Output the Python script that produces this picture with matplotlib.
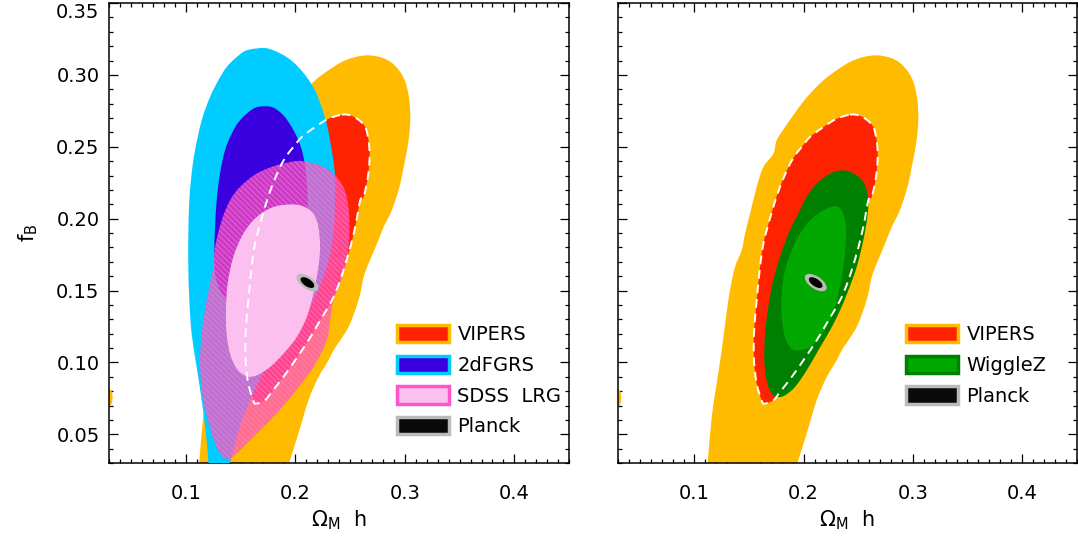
import numpy as np
import matplotlib
matplotlib.use("Agg")
import matplotlib.pyplot as plt
from matplotlib.path import Path
from matplotlib.patches import PathPatch, Ellipse, Patch
from matplotlib.ticker import MultipleLocator

# ---------------- data: contour outlines (Omega_M h, f_B) ----------------
vipers_2sig_x = [0.1106, 0.1121, 0.1158, 0.1203, 0.1249, 0.1289, 0.1325, 0.1371, 0.1432, 0.1463,
                 0.1509, 0.1570, 0.1631, 0.1722, 0.1753, 0.1829, 0.1905, 0.1982, 0.2058, 0.2180,
                 0.2302, 0.2424, 0.2546, 0.2668, 0.2790, 0.2882, 0.2958, 0.3010, 0.3041, 0.3050,
                 0.3041, 0.3019, 0.2989, 0.2958, 0.2913, 0.2867, 0.2806, 0.2745, 0.2668, 0.2623,
                 0.2592, 0.2546, 0.2485, 0.2409, 0.2348, 0.2302, 0.2211, 0.2119, 0.2027, 0.1942,
                 0.1880]
vipers_2sig_y = [0.0156, 0.0300, 0.0620, 0.0852, 0.1084, 0.1315, 0.1501, 0.1663, 0.1779, 0.1895,
                 0.2034, 0.2220, 0.2359, 0.2452, 0.2545, 0.2637, 0.2719, 0.2800, 0.2869, 0.2962,
                 0.3032, 0.3090, 0.3124, 0.3136, 0.3120, 0.3083, 0.3020, 0.2939, 0.2823, 0.2707,
                 0.2591, 0.2475, 0.2359, 0.2243, 0.2127, 0.2034, 0.1942, 0.1826, 0.1687, 0.1594,
                 0.1478, 0.1362, 0.1246, 0.1153, 0.1084, 0.1014, 0.0898, 0.0736, 0.0504, 0.0300,
                 0.0156]

vipers_1sig_x = [0.2424, 0.2500, 0.2577, 0.2638, 0.2668, 0.2678, 0.2662, 0.2623, 0.2592, 0.2546,
                 0.2485, 0.2409, 0.2333, 0.2226, 0.2119, 0.1997, 0.1890, 0.1783, 0.1722, 0.1640,
                 0.1615, 0.1570, 0.1545, 0.1545, 0.1570, 0.1600, 0.1631, 0.1661, 0.1722, 0.1783,
                 0.1860, 0.1921, 0.1982, 0.2058, 0.2180, 0.2302]
vipers_1sig_y = [0.2723, 0.2719, 0.2688, 0.2637, 0.2545, 0.2429, 0.2289, 0.2150, 0.2127, 0.1942,
                 0.1756, 0.1571, 0.1431, 0.1292, 0.1153, 0.1014, 0.0898, 0.0794, 0.0736, 0.0713,
                 0.0736, 0.0852, 0.1014, 0.1200, 0.1431, 0.1663, 0.1826, 0.1918, 0.2081, 0.2220,
                 0.2359, 0.2440, 0.2498, 0.2568, 0.2637, 0.2695]

twodf_2sig_x = [0.1707, 0.1799, 0.1920, 0.2012, 0.2103, 0.2179, 0.2240, 0.2286, 0.2316, 0.2347,
                0.2362, 0.2362, 0.2347, 0.2286, 0.2164, 0.1981, 0.1738, 0.1524, 0.1403, 0.1390,
                0.1214, 0.1205, 0.1183, 0.1144, 0.1098, 0.1052, 0.1031, 0.1022, 0.1022, 0.1031,
                0.1052, 0.1083, 0.1144, 0.1220, 0.1296, 0.1372, 0.1464, 0.1555]
twodf_2sig_y = [0.3187, 0.3171, 0.3124, 0.3066, 0.2985, 0.2892, 0.2776, 0.2661, 0.2545, 0.2405,
                0.2289, 0.2127, 0.1895, 0.1663, 0.1431, 0.1200, 0.0968, 0.0620, 0.0300, 0.0156,
                0.0156, 0.0300, 0.0504, 0.0736, 0.0968, 0.1200, 0.1431, 0.1663, 0.1895, 0.2127,
                0.2313, 0.2475, 0.2684, 0.2846, 0.2962, 0.3055, 0.3124, 0.3171]

twodf_1sig_x = [0.1707, 0.1799, 0.1890, 0.1966, 0.2027, 0.2067, 0.2097, 0.2112, 0.2103, 0.2042,
                0.1920, 0.1738, 0.1555, 0.1403, 0.1311, 0.1266, 0.1259, 0.1266, 0.1281, 0.1311,
                0.1357, 0.1418, 0.1494, 0.1616]
twodf_1sig_y = [0.2781, 0.2772, 0.2719, 0.2637, 0.2545, 0.2452, 0.2313, 0.2127, 0.1895, 0.1710,
                0.1547, 0.1431, 0.1385, 0.1420, 0.1501, 0.1617, 0.1756, 0.1942, 0.2127, 0.2313,
                0.2475, 0.2591, 0.2684, 0.2765]

sdss_2sig_x = [0.2012, 0.2103, 0.2225, 0.2347, 0.2438, 0.2484, 0.2493, 0.2469, 0.2408, 0.2347,
               0.2316, 0.2286, 0.2164, 0.1981, 0.1799, 0.1646, 0.1494, 0.1403, 0.1342, 0.1281,
               0.1220, 0.1159, 0.1129, 0.1144, 0.1189, 0.1250, 0.1266, 0.1327, 0.1403, 0.1494,
               0.1646, 0.1829]
sdss_2sig_y = [0.2401, 0.2394, 0.2371, 0.2313, 0.2220, 0.2081, 0.1895, 0.1710, 0.1547, 0.1431,
               0.1292, 0.1153, 0.0968, 0.0782, 0.0620, 0.0504, 0.0388, 0.0330, 0.0342, 0.0411,
               0.0550, 0.0736, 0.0968, 0.1200, 0.1431, 0.1663, 0.1802, 0.1988, 0.2127, 0.2220,
               0.2313, 0.2371]

sdss_1sig_x = [0.1966, 0.2073, 0.2164, 0.2210, 0.2225, 0.2210, 0.2164, 0.2103, 0.2012, 0.1890,
               0.1768, 0.1646, 0.1555, 0.1464, 0.1403, 0.1372, 0.1366, 0.1381, 0.1433, 0.1524,
               0.1646, 0.1799]
sdss_1sig_y = [0.2099, 0.2085, 0.2034, 0.1942, 0.1802, 0.1663, 0.1478, 0.1315, 0.1176, 0.1060,
               0.0968, 0.0910, 0.0903, 0.0956, 0.1060, 0.1200, 0.1362, 0.1547, 0.1733, 0.1895,
               0.2011, 0.2081]

wigglez_2sig_x = [0.2363, 0.2485, 0.2562, 0.2592, 0.2583, 0.2546, 0.2485, 0.2409, 0.2333, 0.2241,
                  0.2134, 0.2027, 0.1921, 0.1829, 0.1768, 0.1707, 0.1661, 0.1640, 0.1646, 0.1676,
                  0.1722, 0.1783, 0.1860, 0.1936, 0.2027, 0.2119, 0.2241]
wigglez_2sig_y = [0.2336, 0.2301, 0.2232, 0.2127, 0.2011, 0.1849, 0.1663, 0.1501, 0.1362, 0.1223,
                  0.1084, 0.0944, 0.0829, 0.0771, 0.0759, 0.0782, 0.0875, 0.1014, 0.1200, 0.1385,
                  0.1571, 0.1733, 0.1895, 0.2011, 0.2150, 0.2243, 0.2313]

wigglez_1sig_x = [0.2302, 0.2363, 0.2388, 0.2378, 0.2348, 0.2302, 0.2241, 0.2150, 0.2058, 0.1966,
                  0.1890, 0.1829, 0.1799, 0.1799, 0.1829, 0.1890, 0.1966, 0.2058, 0.2180]
wigglez_1sig_y = [0.2085, 0.2034, 0.1918, 0.1756, 0.1594, 0.1431, 0.1292, 0.1176, 0.1107, 0.1084,
                  0.1095, 0.1176, 0.1315, 0.1478, 0.1640, 0.1779, 0.1895, 0.1988, 0.2058]

planck_center = (0.211, 0.1555)

legend_left = ["VIPERS", "2dFGRS", "SDSS  LRG", "Planck"]
legend_right = ["VIPERS", "WiggleZ", "Planck"]
x_ticks = [0.1, 0.2, 0.3, 0.4]
y_ticks = [0.05, 0.10, 0.15, 0.20, 0.25, 0.30, 0.35]

# ---------------- colours ----------------
ORANGE = "#FFBB00"
RED = "#FF2200"
CYAN = "#00CCFF"
BLUE = "#3A00E0"
PINK_IN = "#FBC0F0"
PINK_EDGE = "#FF55C8"
DKGREEN = "#008000"
GREEN = "#00A800"
GRAY = "#BBBBBB"


def smooth_path(xs, ys):
    """Closed Catmull-Rom outline through the given vertices, drawn as Bezier curves."""
    P = np.column_stack([xs, ys])
    n = len(P)
    verts = [P[0]]
    codes = [Path.MOVETO]
    for i in range(n):
        p0, p1, p2, p3 = P[i - 1], P[i], P[(i + 1) % n], P[(i + 2) % n]
        c1 = p1 + (p2 - p0) / 6.0
        c2 = p2 - (p3 - p1) / 6.0
        verts += [c1, c2, p2]
        codes += [Path.CURVE4] * 3
    return Path(verts, codes)


def fill(ax, xs, ys, zorder, **kw):
    patch = PathPatch(smooth_path(xs, ys), zorder=zorder, **kw)
    ax.add_patch(patch)
    return patch


def planck(ax):
    ax.add_patch(Ellipse(planck_center, 0.0215, 0.0092, angle=-24, facecolor=GRAY,
                         edgecolor="none", zorder=20))
    ax.add_patch(Ellipse(planck_center, 0.0135, 0.0056, angle=-24, facecolor="black",
                         edgecolor="none", zorder=21))


def vipers(ax):
    fill(ax, vipers_2sig_x, vipers_2sig_y, 2, facecolor=ORANGE, edgecolor="none")
    fill(ax, vipers_1sig_x, vipers_1sig_y, 3, facecolor=RED, edgecolor="none")
    # small isolated 2-sigma island on the left border
    ax.add_patch(Ellipse((0.03, 0.0755), 0.006, 0.012, facecolor=ORANGE, edgecolor="none", zorder=2))


def dashed(ax):
    fill(ax, vipers_1sig_x, vipers_1sig_y, 15, facecolor="none", edgecolor="white",
         linewidth=1.4, linestyle=(0, (4.5, 3.0)))


def style(ax, ylabels=True):
    ax.set_xlim(0.03, 0.45)
    ax.set_ylim(0.03, 0.35)
    ax.set_xticks(x_ticks)
    ax.set_xticklabels([f"{v:.1f}" for v in x_ticks])
    ax.set_yticks(y_ticks)
    if ylabels:
        ax.set_yticklabels([f"{v:.2f}" for v in y_ticks])
        labs = ax.get_yticklabels()
        labs[-1].set_verticalalignment("top")
    else:
        ax.set_yticklabels([])
    ax.xaxis.set_minor_locator(MultipleLocator(0.01))
    ax.yaxis.set_minor_locator(MultipleLocator(0.01))
    ax.tick_params(which="both", direction="in", top=True, right=True, width=0.9, color="black")
    ax.tick_params(which="major", length=6.3)
    ax.tick_params(which="minor", length=3.1)
    ax.tick_params(axis="x", which="major", pad=15, labelsize=14)
    ax.tick_params(axis="y", which="major", pad=7, labelsize=14)
    for s in ax.spines.values():
        s.set_linewidth(1.1)
    ax.set_xlabel(r"$\Omega_{\mathregular{M}}$  h", fontsize=15, labelpad=4)


plt.rcParams["hatch.linewidth"] = 0.6
fig = plt.figure(figsize=(10.78, 5.37), dpi=100)
axL = fig.add_axes([0.1014, 0.1378, 0.4265, 0.8566])
axR = fig.add_axes([0.5733, 0.1378, 0.4255, 0.8566])

# ---- left panel ----
vipers(axL)
fill(axL, twodf_2sig_x, twodf_2sig_y, 4, facecolor=CYAN, edgecolor="none")
fill(axL, twodf_1sig_x, twodf_1sig_y, 5, facecolor=BLUE, edgecolor="none")
fill(axL, sdss_2sig_x, sdss_2sig_y, 6, facecolor=(1.0, 0.32, 0.75, 0.73),
     edgecolor=(1.0, 0.5, 0.85, 0.7), linewidth=0, hatch="\\\\\\\\\\\\")
fill(axL, sdss_1sig_x, sdss_1sig_y, 7, facecolor=PINK_IN, edgecolor="none")
dashed(axL)
planck(axL)
style(axL, ylabels=True)
axL.set_ylabel(r"f$_{\mathregular{B}}$", fontsize=15, labelpad=12)

legend_kw = dict(loc="upper left", frameon=False, fontsize=14, handlelength=2.65,
                 handleheight=1.0, handletextpad=0.45, labelspacing=0.58,
                 borderpad=0, borderaxespad=0)

hL = [Patch(facecolor=RED, edgecolor=ORANGE, linewidth=2.5),
      Patch(facecolor=BLUE, edgecolor=CYAN, linewidth=2.5),
      Patch(facecolor=PINK_IN, edgecolor=PINK_EDGE, linewidth=2.5),
      Patch(facecolor="#0A0A0A", edgecolor=GRAY, linewidth=2.5)]
axL.legend(hL, legend_left, bbox_to_anchor=(0.626, 0.300), **legend_kw)

# ---- right panel ----
vipers(axR)
fill(axR, wigglez_2sig_x, wigglez_2sig_y, 4, facecolor=DKGREEN, edgecolor="none")
fill(axR, wigglez_1sig_x, wigglez_1sig_y, 5, facecolor=GREEN, edgecolor="none")
dashed(axR)
planck(axR)
style(axR, ylabels=False)

hR = [Patch(facecolor=RED, edgecolor=ORANGE, linewidth=2.5),
      Patch(facecolor=GREEN, edgecolor=DKGREEN, linewidth=2.5),
      Patch(facecolor="#0A0A0A", edgecolor=GRAY, linewidth=2.5)]
axR.legend(hR, legend_right, bbox_to_anchor=(0.628, 0.300), **legend_kw)

fig.savefig("out.png", dpi=100)
